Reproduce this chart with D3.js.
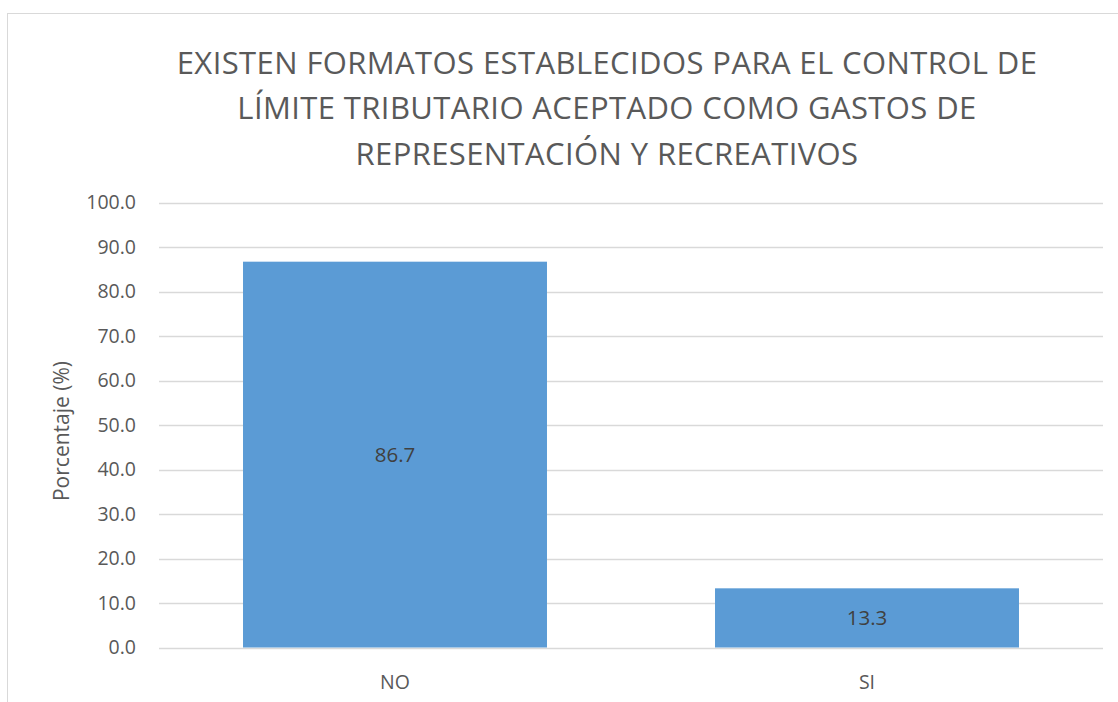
<!DOCTYPE html>
<html>
<head>
<meta charset="utf-8">
<script src="https://cdn.jsdelivr.net/npm/d3@7"></script>
<style>
  body { margin: 0; background: #fff; }
  text { font-family: "Open Sans", sans-serif; }
</style>
</head>
<body>
<div id="chart"></div>
<script>
var categories = ["NO", "SI"];
var values = [86.7, 13.3];
var yTicks = [0, 10, 20, 30, 40, 50, 60, 70, 80, 90, 100];
var titleLines = [
    "EXISTEN FORMATOS ESTABLECIDOS PARA EL CONTROL DE",
    "LÍMITE TRIBUTARIO ACEPTADO COMO GASTOS DE",
    "REPRESENTACIÓN Y RECREATIVOS"
];
var yLabel = "Porcentaje (%)";

var width = 1118,
    height = 702;

var svg = d3.select("#chart").append("svg")
    .attr("width", width)
    .attr("height", height);

// chart frame
svg.append("rect")
    .attr("x", 7.5)
    .attr("y", 13.5)
    .attr("width", 1120)
    .attr("height", 700)
    .attr("fill", "#fff")
    .attr("stroke", "#d9d9d9")
    .attr("stroke-width", 1);

var plot = { left: 159, right: 1103, top: 202.5, bottom: 647.5 };

var x = d3.scaleBand()
    .domain(categories)
    .range([plot.left, plot.right])
    .paddingInner(0.356)
    .paddingOuter(0.178);

var y = d3.scaleLinear()
    .domain([0, 100])
    .range([plot.bottom, plot.top]);

// gridlines
svg.append("g")
    .selectAll("line")
    .data(yTicks)
    .enter().append("line")
    .attr("x1", plot.left)
    .attr("x2", plot.right)
    .attr("y1", function (d) { return Math.round(y(d)) + 0.5; })
    .attr("y2", function (d) { return Math.round(y(d)) + 0.5; })
    .attr("stroke", "#d9d9d9")
    .attr("stroke-width", 1.3);

// y tick labels
svg.append("g")
    .selectAll("text")
    .data(yTicks)
    .enter().append("text")
    .attr("x", 136)
    .attr("y", function (d) { return y(d); })
    .attr("dy", "0.35em")
    .attr("text-anchor", "end")
    .attr("fill", "#595959")
    .style("font-size", "19.5px")
    .text(function (d) { return d.toFixed(1); });

// bars
svg.append("g")
    .selectAll("rect")
    .data(values)
    .enter().append("rect")
    .attr("x", function (d, i) { return x(categories[i]); })
    .attr("width", x.bandwidth())
    .attr("y", function (d) { return y(d); })
    .attr("height", function (d) { return y(0) - y(d); })
    .attr("fill", "#5b9bd5");

// data labels
svg.append("g")
    .selectAll("text")
    .data(values)
    .enter().append("text")
    .attr("x", function (d, i) { return x(categories[i]) + x.bandwidth() / 2; })
    .attr("y", function (d) { return (y(d) + y(0)) / 2; })
    .attr("dy", "0.35em")
    .attr("text-anchor", "middle")
    .attr("fill", "#404040")
    .style("font-size", "20.5px")
    .text(function (d) { return d.toFixed(1); });

// category labels
svg.append("g")
    .selectAll("text")
    .data(categories)
    .enter().append("text")
    .attr("x", function (d) { return x(d) + x.bandwidth() / 2; })
    .attr("y", 682)
    .attr("dy", "0.35em")
    .attr("text-anchor", "middle")
    .attr("fill", "#595959")
    .style("font-size", "19.5px")
    .text(function (d) { return d; });

// y axis title
svg.append("text")
    .attr("transform", "translate(62," + ((plot.top + plot.bottom) / 2 + 6) + ")rotate(-90)")
    .attr("dy", "0.35em")
    .attr("text-anchor", "middle")
    .attr("fill", "#595959")
    .style("font-size", "21px")
    .text(yLabel);

// title
svg.append("g")
    .selectAll("text")
    .data(titleLines)
    .enter().append("text")
    .attr("x", 607)
    .attr("y", function (d, i) { return 63 + i * 45.5; })
    .attr("dy", "0.35em")
    .attr("text-anchor", "middle")
    .attr("fill", "#595959")
    .style("font-size", "31px")
    .style("letter-spacing", "0.4px")
    .text(function (d) { return d; });
</script>
</body>
</html>
